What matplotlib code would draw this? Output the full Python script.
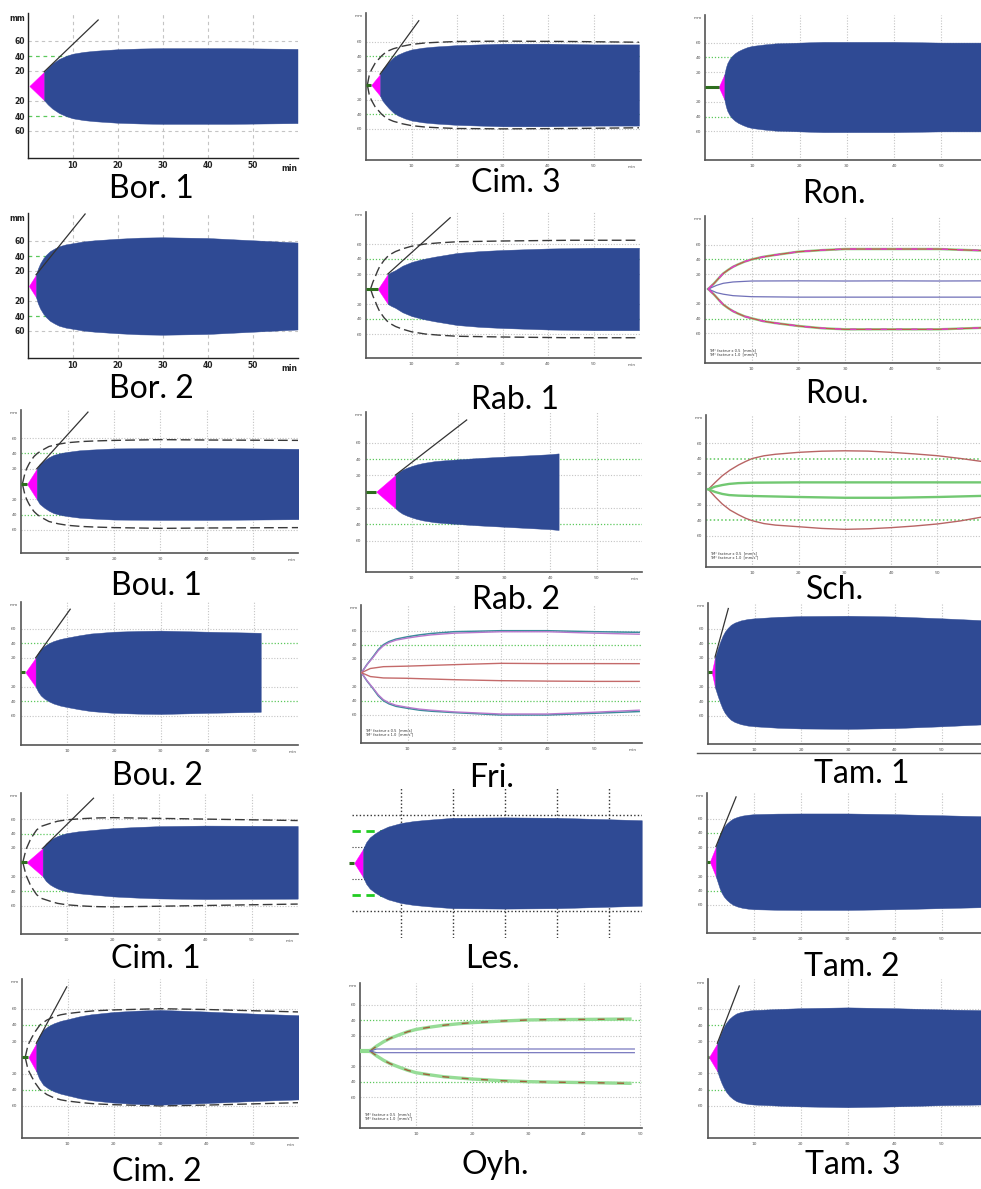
import matplotlib
matplotlib.use("Agg")
import matplotlib.pyplot as plt
from matplotlib.lines import Line2D

W, H = 981, 1189

# ======================= DATA (time in min, half-amplitude in mm) =======================
# Filled TEG traces: first point = R (pink tip), second point = K (end of pink / start of blue)
BOR1_T = [0.4, 3.7, 4.5, 5.5, 7, 8.5, 10, 12.5, 15, 20, 25, 30, 45, 60]
BOR1_A = [0, 19, 24.5, 30, 36, 40, 43, 45.5, 47, 49, 50, 50.5, 50.5, 49.5]
BOR1_TAN = [15.7, 88]

BOR2_T = [0.3, 1.9, 2.3, 2.8, 3.5, 4.2, 5, 6, 7, 8.5, 10, 12.5, 15, 20, 25, 30, 40, 50, 60]
BOR2_A = [0, 15, 23, 30, 37, 42, 46.5, 50, 53, 55.5, 57, 59.5, 61, 63, 64.5, 65, 64, 61, 58]
BOR2_TAN = [12.8, 96]

BOU1_T = [1.3, 3.4, 4, 5, 6, 7, 8.5, 10, 12.5, 15, 20, 30, 40, 50, 60]
BOU1_A = [0, 20, 26, 31, 35, 38, 40.5, 42, 44, 45, 46.5, 47, 47, 46.5, 46]
BOU1_TAN = [14.4, 94]
BOU1_REF_T = [0.3, 0.8, 1.2, 1.7, 2.2, 2.8, 3.5, 4.5, 6, 8, 10, 13, 16, 20, 30, 40, 60]
BOU1_REF_A = [0, 13, 20, 26, 31, 36, 40, 44, 49, 52, 54, 55.5, 56.3, 57, 58, 57.5, 57]

BOU2_T = [1.0, 3.2, 3.7, 4.3, 5, 6, 7, 8.5, 10, 12.5, 15, 20, 25, 30, 40, 51.4]
BOU2_A = [0, 20, 26.5, 32, 36, 40, 43, 46, 48, 51, 53.5, 56, 57, 57.5, 56, 54.5]
BOU2_TAN = [10.6, 87]

CIM1_T = [1.3, 4.8, 5.5, 6.4, 7.2, 8, 9, 10, 12.5, 15, 20, 25, 30, 40, 60]
CIM1_A = [0, 19.4, 26, 31, 34, 36.5, 38.8, 40.5, 43, 44.5, 47.4, 49, 50.2, 51, 50.5]
CIM1_TAN = [15.8, 89]
CIM1_REF_T = [0.5, 1.2, 2.1, 2.8, 3.5, 4.5, 6.4, 8, 10, 13, 16, 20, 30, 40, 60]
CIM1_REF_A = [0, 18, 31, 38.5, 45, 50, 54, 57, 59, 60.5, 61.5, 62, 61, 60, 58]

CIM2_T = [1.5, 3.2, 3.8, 4.7, 5.8, 7, 8.5, 10, 12.5, 15, 20, 25, 30, 40, 50, 60]
CIM2_A = [0, 17.3, 26, 34, 38.5, 42, 45, 47, 50.5, 53, 56, 57.6, 58.5, 56.5, 54, 52]
CIM2_TAN = [9.8, 87]
CIM2_REF_T = [0.8, 1.4, 2.2, 3, 4, 5.5, 7, 8.5, 10, 13, 16, 20, 30, 40, 50, 60]
CIM2_REF_A = [0, 15, 24, 32, 40, 46, 50, 52.5, 54, 56, 57.5, 58.5, 60, 59, 57.5, 56]

CIM3_T = [1.15, 3.1, 3.6, 4.3, 5, 6, 7, 8.5, 10, 12.5, 15, 20, 30, 40, 50, 60]
CIM3_A = [0, 15, 21.5, 27, 32, 38, 42, 46, 49, 51.5, 53, 55, 57, 57, 56, 56]
CIM3_TAN = [11.6, 88.6]
CIM3_REF_T = [0.3, 0.7, 1.2, 2, 3.4, 4.5, 6, 8, 10, 13, 16, 20, 30, 45, 60]
CIM3_REF_A = [0, 13, 21, 30, 40, 46, 50, 53.5, 56, 58, 59, 60, 60.5, 60, 59]

RAB1_T = [2.6, 4.8, 5.5, 6.4, 8, 10, 12.5, 15, 20, 25, 30, 40, 50, 60]
RAB1_A = [0, 20, 22.5, 25, 31, 36, 40, 43, 48, 50.5, 52, 54, 55, 55]
RAB1_TAN = [18.5, 95]
RAB1_REF_T = [1.0, 1.5, 2.0, 2.5, 3.0, 4, 5, 6.5, 8, 10, 13, 16, 20, 30, 45, 60]
RAB1_REF_A = [0, 9, 16, 23.5, 30, 38.5, 45, 50, 53.5, 57, 60, 61.5, 63, 64, 65, 65]

RAB2_T = [2.3, 6.5, 7.2, 8, 9, 10, 11, 12.5, 15, 17.5, 20, 25, 30, 35, 40, 41.8]
RAB2_A = [0, 20.5, 24, 27, 29.5, 31.5, 33.3, 35.3, 37.5, 38.7, 39.7, 41.5, 43, 44.5, 46, 47]
RAB2_TAN = [21.9, 88]

RON_T = [2.9, 4.1, 4.4, 4.7, 5.2, 5.7, 6.3, 7, 8, 9, 10, 12.5, 15, 20, 25, 40, 50, 60]
RON_A = [0, 17, 26, 32, 38, 42, 45.5, 48.5, 51.5, 54, 55.5, 57.5, 59, 60, 61, 61, 60, 60]

LES_T = [1.0, 2.7, 3.3, 4, 5, 6, 7.5, 10, 12.5, 15, 20, 30, 40, 56.3]
LES_A = [0, 17.5, 26, 32, 37, 41, 45.5, 50, 52.5, 54, 56.5, 57, 56.5, 53.5]

TAM1_T = [0.8, 1.5, 1.8, 2.1, 2.6, 3.1, 3.6, 4.2, 4.9, 5.7, 7, 8.5, 10, 15, 20, 30, 40, 50, 60]
TAM1_A = [0, 21, 27, 33, 42, 50, 56, 61, 65.5, 68.5, 71.5, 73.5, 74.5, 76.5, 77.5, 78, 77, 74.5, 71.5]
TAM1_TAN = [4.35, 88]

TAM2_T = [0.6, 1.9, 2.3, 2.7, 3.1, 3.6, 4.2, 4.9, 5.6, 6.5, 7.5, 8.7, 10, 15, 20, 30, 40, 50, 60]
TAM2_A = [0, 21, 29, 37, 43, 48.5, 53, 57, 60, 62.3, 64, 65.2, 66, 66.8, 67, 67, 66, 64.5, 63]
TAM2_TAN = [6.2, 90]

TAM3_T = [0.3, 2.1, 2.5, 3.0, 3.4, 4.0, 4.7, 5.4, 6.2, 7, 8, 9, 10, 15, 20, 30, 40, 50, 60]
TAM3_A = [0, 17.4, 24.5, 32, 37, 43, 48, 51.5, 54.5, 56, 57.3, 58.2, 58.7, 60, 61, 62, 61, 59.5, 58.5]
TAM3_TAN = [6.8, 88.6]

# Line traces (upper / lower)
ROU_OUT_T = [0.7, 2, 3, 3.9, 5, 6, 7, 8.5, 10, 12.5, 15, 20, 25, 30, 40, 50, 60]
ROU_OUT_UP = [0, 8, 15, 21, 26, 30, 33, 37, 40, 43.5, 46, 50.4, 52.5, 54, 54, 54, 51.8]
ROU_OUT_LO = [0, -8, -15, -21, -26, -30, -33, -37, -39.6, -43.5, -46, -50, -53, -54.5, -54.5, -54.5, -52.3]
ROU_IN_T = [0.7, 2.5, 3.9, 6, 10, 20, 30, 40, 50, 60]
ROU_IN_UP = [0, 5, 7.7, 9.5, 10.8, 11, 10.8, 11, 10.8, 11]
ROU_IN_LO = [0, -5, -7, -9, -10.4, -11, -11, -11, -11, -11]

SCH_OUT_T = [0.5, 2, 3.5, 5.2, 7, 8.5, 10, 12.5, 15, 20, 25, 30, 35, 40, 45, 50, 55, 60]
SCH_OUT_UP = [0, 9, 17.5, 25, 31.5, 36, 40, 43.5, 45.5, 48, 49.5, 50, 49.6, 48, 46, 43.6, 40, 35.8]
SCH_OUT_LO = [0, -10, -19, -27, -33, -37.5, -40.8, -44.5, -46.5, -48.6, -50.8, -52, -51.3, -49.8, -47.7, -45, -41, -35.6]
SCH_IN_T = [0.5, 2, 3.5, 5, 7, 10, 20, 30, 40, 50, 60]
SCH_IN_UP = [0, 3.5, 5.5, 7, 8, 8.6, 9, 9, 9, 9, 9]
SCH_IN_LO = [0, -3.5, -6, -7.5, -8.2, -8.7, -10, -11, -11, -10, -8.5]

FRI_OUT_T = [0.1, 1.3, 2.6, 3.7, 4.8, 6, 7.5, 10, 12.5, 15, 20, 30, 40, 50, 59.7]
FRI_OUT1_UP = [0, 12, 23, 33, 40, 44.5, 48, 51.4, 54, 56, 58.6, 60, 60, 58.6, 57.7]
FRI_OUT1_LO = [0, -12, -23, -33, -40, -44.5, -48, -50.9, -53.5, -55, -57, -60.4, -60.4, -58, -55.5]
FRI_OUT2_UP = [0, 11.5, 22, 31.5, 38.5, 43, 46.5, 49.5, 52, 54, 56.5, 58.5, 58.5, 56.5, 55]
FRI_OUT2_LO = [0, -11.5, -22, -31.5, -38.5, -43, -46.5, -49.5, -52, -53.5, -56, -59, -59, -56.5, -53.5]
FRI_IN_T = [0.1, 2, 4.8, 10, 20, 30, 40, 50, 59.7]
FRI_IN_UP = [0, 6, 8.6, 9.4, 11.5, 13.4, 13, 13, 12.9]
FRI_IN_LO = [0, -5.5, -7.5, -8, -10, -11.4, -12, -12.4, -12.4]

OYH_R = 1.8
OYH_OUT_T = [1.8, 3, 4.2, 5.4, 7, 8.5, 10, 12.5, 15, 17.5, 20, 25, 30, 35, 40, 48.2]
OYH_OUT_UP = [0, 6.5, 12, 16.5, 21, 25, 28, 31, 33.5, 35.3, 36.8, 38.8, 40.3, 40.8, 41, 41.5]
OYH_OUT_LO = [0, -6.5, -12, -16.5, -21, -25, -28.2, -31, -33.5, -35, -36.4, -38.5, -39.8, -40.5, -41, -42]
OYH_IN_T = [1.8, 3, 12.6, 20, 30, 40, 49]
OYH_IN_UP = [0, 2.6, 2.6, 2.6, 2.6, 2.6, 2.6]
OYH_IN_LO = [0, -2.2, -2.2, -2.2, -2.2, -2.2, -2.2]

Y_TICKS = [60, 40, 20, -20, -40, -60]
Y_LABELS = ["60", "40", "20", "20", "40", "60"]
X_TICKS = [10, 20, 30, 40, 50]
X_LABELS = ["10", "20", "30", "40", "50"]
LEGEND_LINES = ["TM° facteur x 0.5  [mm/s]", "TM° facteur x 1.0  [mm/s²]"]

# ======================= LAYOUT (pixels) =======================
# x0: t=0 position, s: px per 10 min, top/bottom: axes extent, c: y of 0 mm, p: px per 20 mm
LAYOUT = {
    "Bor. 1": dict(x0=27.5, s=45, top=13, bottom=158, c=86, p=15, right=298, lab=(151, 187)),
    "Bor. 2": dict(x0=27.5, s=45, top=213, bottom=358, c=286, p=15, right=298, lab=(151, 387)),
    "Bou. 1": dict(x0=21, s=46.5, top=410, bottom=553, c=484, p=15.3, right=298, lab=(156, 584)),
    "Bou. 2": dict(x0=20.7, s=46.7, top=602, bottom=745, c=672.3, p=14.5, right=298, lab=(157, 774)),
    "Cim. 1": dict(x0=20.5, s=46.2, top=793, bottom=934, c=862.3, p=14.4, right=298, lab=(156, 957)),
    "Cim. 2": dict(x0=21.5, s=46.2, top=979, bottom=1138, c=1057.3, p=16.2, right=298, lab=(157, 1170)),
    "Cim. 3": dict(x0=366, s=45.5, top=13, bottom=160, c=85, p=14.5, right=641, lab=(516, 181)),
    "Rab. 1": dict(x0=366, s=45.5, top=212, bottom=358, c=289, p=15, right=641, lab=(515, 398)),
    "Rab. 2": dict(x0=365.5, s=46.2, top=412, bottom=571.7, c=491.7, p=16.3, right=641.7, lab=(516, 598)),
    "Fri.": dict(x0=361, s=46.6, top=605, bottom=742.7, c=672.7, p=14, right=641.7, lab=(492, 776)),
    "Les.": dict(x0=349, s=52, top=787, bottom=938, c=863, p=16, right=642, lab=(492, 957)),
    "Oyh.": dict(x0=360, s=56, top=983, bottom=1127.7, c=1051, p=15.4, right=641.7, lab=(495, 1163)),
    "Ron.": dict(x0=705, s=47.3, top=15, bottom=160, c=87, p=14.8, right=989, lab=(834, 192)),
    "Rou.": dict(x0=705, s=46.7, top=216, bottom=363.3, c=289, p=14.8, right=985, lab=(837, 392)),
    "Sch.": dict(x0=706, s=46.3, top=415, bottom=566.7, c=489.3, p=15.4, right=984, lab=(835, 588)),
    "Tam. 1": dict(x0=708, s=46.7, top=602.7, bottom=744.3, c=672.3, p=14.5, right=988, lab=(862, 772)),
    "Tam. 2": dict(x0=707, s=46.9, top=792.7, bottom=933.3, c=861.7, p=14.4, right=988, lab=(852, 965)),
    "Tam. 3": dict(x0=707.5, s=46.7, top=979.3, bottom=1138.3, c=1057.3, p=16.1, right=988, lab=(853, 1163)),
}

BLUE = "#2f4a94"
PINK = "#ff00ff"
DKGREEN = "#2e6e1e"
GRIDGREY = "#c4c4c4"
GRIDGREEN = "#5cc85c"

fig = plt.figure(figsize=(W / 100, H / 100), dpi=100)
fig.patch.set_facecolor("white")


def make_ax(L):
    ax = fig.add_axes([L["x0"] / W, 1 - L["bottom"] / H,
                       (L["right"] - L["x0"]) / W, (L["bottom"] - L["top"]) / H])
    ax.set_xlim(0, (L["right"] - L["x0"]) / L["s"] * 10)
    ax.set_ylim(-(L["bottom"] - L["c"]) / L["p"] * 20, (L["c"] - L["top"]) / L["p"] * 20)
    ax.set_facecolor("white")
    return ax


def grid(ax, dashed=False, strong_green=False):
    ls = (0, (3, 3)) if dashed else (0, (1, 1.5))
    for t in X_TICKS:
        ax.axvline(t, color=GRIDGREY, lw=0.8, ls=ls, zorder=1)
    for y in [60, 20, -20, -60]:
        ax.axhline(y, color=GRIDGREY, lw=0.8, ls=ls, zorder=1)
    for y in [40, -40]:
        ax.axhline(y, color=GRIDGREEN, lw=1.1 if strong_green else 0.9, ls=ls, zorder=1)


def axes_style(ax, big=False, minlab=True, xlabels=None):
    for s in ["top", "right"]:
        ax.spines[s].set_visible(False)
    col = "#222222" if big else "#555555"
    for s in ["left", "bottom"]:
        ax.spines[s].set_color(col)
        ax.spines[s].set_linewidth(1.0 if big else 1.2)
    fs = 5.5 if big else 3.2
    ax.set_yticks(Y_TICKS)
    ax.set_yticklabels(Y_LABELS)
    ax.set_xticks(X_TICKS)
    ax.set_xticklabels(X_LABELS if xlabels is None else xlabels)
    ax.tick_params(length=0, labelsize=fs, colors=col, pad=2 if big else 3)
    if big:
        for lab in ax.get_xticklabels() + ax.get_yticklabels():
            lab.set_fontweight("bold")
    ytop = ax.get_ylim()[1]
    ax.annotate("mm", xy=(0, ytop), xycoords="data", xytext=(-2, -1),
                textcoords="offset points", ha="right", va="top", fontsize=fs,
                color=col, fontweight="bold" if big else "normal", annotation_clip=False)
    if minlab:
        ax.annotate("min", xy=(58.3, ax.get_ylim()[0]), xycoords="data", xytext=(0, -(fs + 2)),
                    textcoords="offset points", ha="center", va="center", fontsize=fs,
                    color=col, fontweight="bold" if big else "normal", annotation_clip=False)


def teg(ax, T, A, tan=None, ref_t=None, ref_a=None, green=True):
    if green and T[0] > 0.2:
        ax.plot([0, T[0]], [0, 0], color=DKGREEN, lw=2.2, solid_capstyle="butt", zorder=4)
    ax.fill_between(T[:2], [-a for a in A[:2]], A[:2], color=PINK, lw=0.3, zorder=3)
    ax.fill_between(T[1:], [-a for a in A[1:]], A[1:], color=BLUE, lw=0.3, zorder=3)
    if tan is not None:
        ax.plot([T[1], tan[0]], [A[1], tan[1]], color="#333333", lw=0.9, zorder=5)
    if ref_t is not None:
        for sgn in (1, -1):
            ax.plot(ref_t, [sgn * a for a in ref_a], color="#3a3a3a", lw=1.0,
                    ls=(0, (7, 3)), zorder=2)


def legend_text(ax):
    yb = ax.get_ylim()[0]
    ax.text(0.8, yb + 9, LEGEND_LINES[0] + "\n" + LEGEND_LINES[1], fontsize=2.6,
            color="#333333", ha="left", va="bottom", linespacing=1.1, zorder=6)


def min_ok(L):
    return L["x0"] + 58.3 * L["s"] / 10 + 6 < W


# ----------------------------- filled panels -----------------------------
filled = {
    "Bor. 1": (BOR1_T, BOR1_A, BOR1_TAN, None, None, False),
    "Bor. 2": (BOR2_T, BOR2_A, BOR2_TAN, None, None, False),
    "Bou. 1": (BOU1_T, BOU1_A, BOU1_TAN, BOU1_REF_T, BOU1_REF_A, True),
    "Bou. 2": (BOU2_T, BOU2_A, BOU2_TAN, None, None, True),
    "Cim. 1": (CIM1_T, CIM1_A, CIM1_TAN, CIM1_REF_T, CIM1_REF_A, True),
    "Cim. 2": (CIM2_T, CIM2_A, CIM2_TAN, CIM2_REF_T, CIM2_REF_A, True),
    "Cim. 3": (CIM3_T, CIM3_A, CIM3_TAN, CIM3_REF_T, CIM3_REF_A, True),
    "Rab. 1": (RAB1_T, RAB1_A, RAB1_TAN, RAB1_REF_T, RAB1_REF_A, True),
    "Rab. 2": (RAB2_T, RAB2_A, RAB2_TAN, None, None, True),
    "Ron.": (RON_T, RON_A, None, None, None, True),
    "Tam. 1": (TAM1_T, TAM1_A, TAM1_TAN, None, None, True),
    "Tam. 2": (TAM2_T, TAM2_A, TAM2_TAN, None, None, True),
    "Tam. 3": (TAM3_T, TAM3_A, TAM3_TAN, None, None, True),
}

for name, (T, A, tan, rt, ra, gr) in filled.items():
    L = LAYOUT[name]
    ax = make_ax(L)
    big = name.startswith("Bor")
    grid(ax, dashed=big)
    teg(ax, T, A, tan, rt, ra, green=gr)
    axes_style(ax, big=big, minlab=min_ok(L))

# ----------------------------- Les. (no axes) -----------------------------
L = LAYOUT["Les."]
ax = make_ax(L)
ax.axis("off")
y0, y1 = ax.get_ylim()
xm = ax.get_xlim()[1]
ax.vlines(X_TICKS, y0, y1, colors="#333333", lw=1.0, linestyles=(0, (1, 1.6)), zorder=1)
ax.hlines([60, -60], 0.5, xm, colors="#333333", lw=1.0, linestyles=(0, (1, 1.6)), zorder=1)
ax.hlines([40, -40], 0.5, 8, colors="#22cc22", lw=2.0, linestyles=(0, (3, 2)), zorder=1)
ax.hlines([20, -20], 0.5, 4, colors="#333333", lw=0.8, linestyles=(0, (1, 1.6)), zorder=1)
teg(ax, LES_T, LES_A, None, None, None, green=True)


# ----------------------------- line panels -----------------------------
def both(ax, t, up, lo, **kw):
    ax.plot(t, up, **kw)
    ax.plot(t, lo, **kw)


# Rou.
L = LAYOUT["Rou."]
ax = make_ax(L)
grid(ax)
both(ax, ROU_OUT_T, ROU_OUT_UP, ROU_OUT_LO, color="#8fd88f", lw=1.8, zorder=3)
both(ax, ROU_OUT_T, ROU_OUT_UP, ROU_OUT_LO, color="#c85050", lw=0.9, zorder=4)
both(ax, ROU_OUT_T, ROU_OUT_UP, ROU_OUT_LO, color="#e040c0", lw=1.1, ls=(0, (4, 6)), zorder=5)
both(ax, ROU_IN_T, ROU_IN_UP, ROU_IN_LO, color="#7070b8", lw=0.9, zorder=4)
axes_style(ax, minlab=min_ok(L))
legend_text(ax)

# Sch.
L = LAYOUT["Sch."]
ax = make_ax(L)
grid(ax, strong_green=True)
both(ax, SCH_OUT_T, SCH_OUT_UP, SCH_OUT_LO, color="#b86464", lw=1.0, zorder=4)
both(ax, SCH_IN_T, SCH_IN_UP, SCH_IN_LO, color="#72c872", lw=1.7, zorder=4)
axes_style(ax, minlab=min_ok(L))
legend_text(ax)

# Fri.
L = LAYOUT["Fri."]
ax = make_ax(L)
grid(ax)
both(ax, FRI_OUT_T, FRI_OUT1_UP, FRI_OUT1_LO, color="#3c8c9c", lw=1.1, zorder=4)
both(ax, FRI_OUT_T, FRI_OUT2_UP, FRI_OUT2_LO, color="#b878cc", lw=1.0, zorder=4)
both(ax, FRI_IN_T, FRI_IN_UP, FRI_IN_LO, color="#c46a6a", lw=1.0, zorder=4)
axes_style(ax, minlab=min_ok(L))
legend_text(ax)

# Oyh.
L = LAYOUT["Oyh."]
ax = make_ax(L)
grid(ax)
ax.plot([0, OYH_R], [0, 0], color="#90dc90", lw=3, zorder=3)
both(ax, OYH_OUT_T, OYH_OUT_UP, OYH_OUT_LO, color="#96dc96", lw=2.4, zorder=3)
both(ax, OYH_OUT_T, OYH_OUT_UP, OYH_OUT_LO, color="#a0603a", lw=1.0, ls=(0, (5, 9)), zorder=4)
both(ax, OYH_IN_T, OYH_IN_UP, OYH_IN_LO, color="#6a6ab8", lw=0.8, zorder=4)
axes_style(ax, minlab=False)
legend_text(ax)

# separator line under Tam. 1
fig.add_artist(Line2D([697 / W, 1.0], [1 - 753 / H, 1 - 753 / H], color="#555555",
                      lw=1.0, transform=fig.transFigure))

# ----------------------------- panel names -----------------------------
for name, L in LAYOUT.items():
    x, y = L["lab"]
    fig.text(x / W, 1 - (y + 11) / H, name, fontsize=23, family="Lato",
             ha="center", va="baseline", color="black")

fig.savefig("out.png", dpi=100, facecolor="white")
